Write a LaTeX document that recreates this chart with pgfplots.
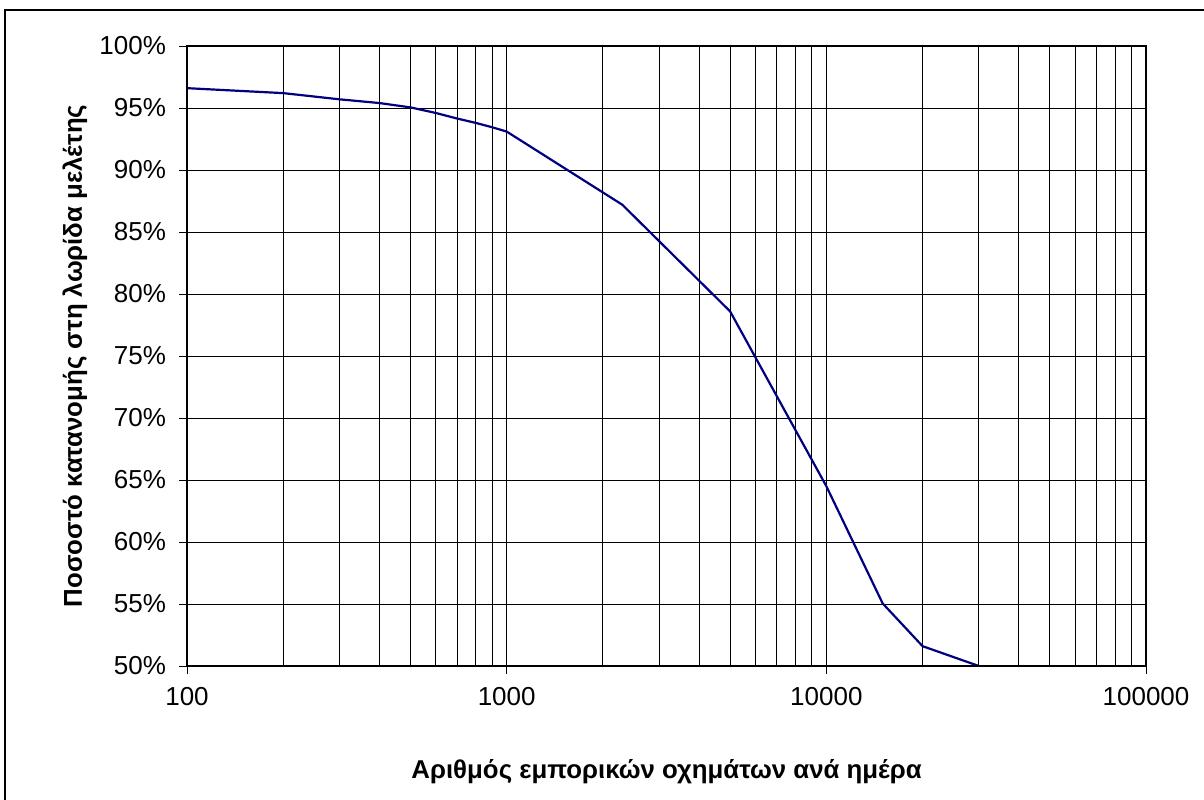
\documentclass[border=0pt]{standalone}
\usepackage{fontspec}
\setmainfont{Liberation Sans}
\usepackage{pgfplots}
\pgfplotsset{compat=1.18}

\definecolor{navyline}{RGB}{0,0,128}

\begin{document}
\begin{tikzpicture}
\useasboundingbox (-93.5pt,-66.5pt) rectangle (508.5pt,333pt);
% outer chart frame (right and bottom edges fall outside the picture)
\draw[line width=1pt] (-91pt,-70pt) -- (-91pt,328pt) -- (512pt,328pt);
\begin{axis}[
    at={(0pt,0pt)}, anchor=south west,
    scale only axis,
    width=479.5pt, height=310pt,
    xmode=log, log basis x=10,
    xmin=100, xmax=100000,
    ymin=50, ymax=100,
    xtick={100,1000,10000,100000},
    xticklabels={100,1000,10000,100000},
    minor xtick={200,300,400,500,600,700,800,900,
                 2000,3000,4000,5000,6000,7000,8000,9000,
                 20000,30000,40000,50000,60000,70000,80000,90000},
    ytick={50,55,...,100},
    yticklabel={\pgfmathprintnumber{\tick}\%},
    /pgf/number format/assume math mode=true,
    tick pos=left, tick align=outside,
    major tick length=4pt, minor tick length=0pt,
    grid=both,
    major grid style={black, line width=0.5pt},
    minor grid style={black, line width=0.5pt},
    tick style={black, line width=0.5pt},
    ticklabel style={font=\fontsize{13}{15}\selectfont},
    yticklabel style={xshift=-3pt},
    xticklabel style={yshift=-3pt},
    xlabel={Αριθμός εμπορικών οχημάτων ανά ημέρα},
    ylabel={Ποσοστό κατανομής στη λωρίδα μελέτης},
    label style={font=\fontsize{12.9}{15}\selectfont\bfseries},
    xlabel style={at={(axis description cs:0.5,-0.171)}, anchor=center},
    ylabel style={at={(axis description cs:-0.1168,0.5)}, anchor=center},
]
\addplot[navyline, line width=1.1pt, mark=none] coordinates {
  (100,96.6) (200,96.2) (300,95.7) (400,95.4) (500,95.05)
  (600,94.6) (700,94.15) (800,93.8) (900,93.45) (1000,93.1)
  (2300,87.2) (5000,78.6) (10000,64.5) (15000,55.05)
  (20000,51.6) (30000,50)
};
\end{axis}
\draw[line width=1.4pt] (0pt,0pt) rectangle (479.5pt,310pt);
\end{tikzpicture}
\end{document}
